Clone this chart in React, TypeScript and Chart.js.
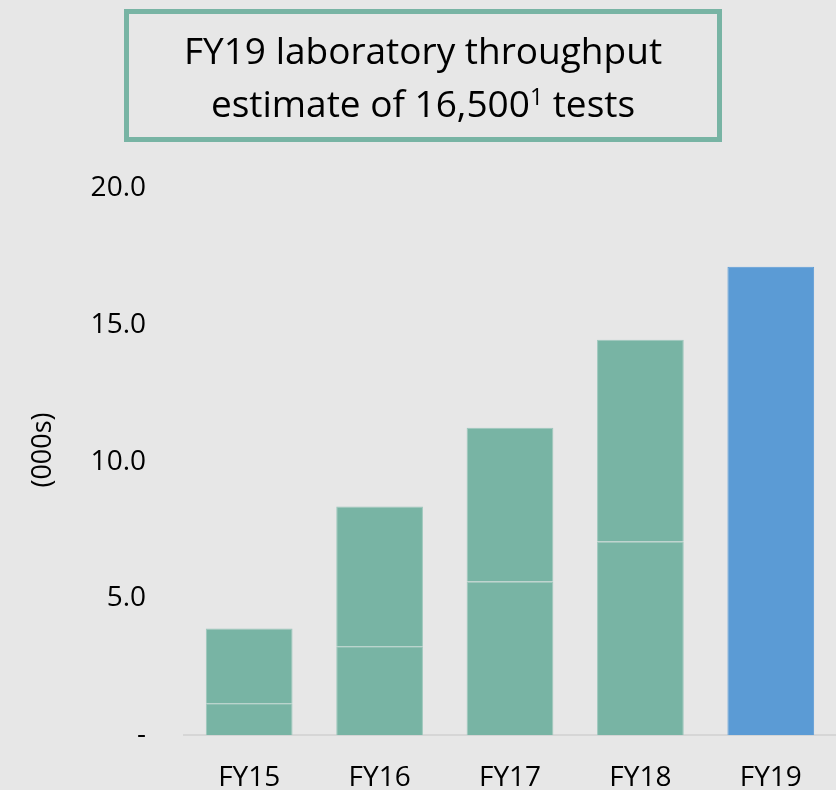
import React, { useEffect, useRef } from "react";
import { Chart, registerables } from "chart.js";

Chart.register(...registerables);

const categories = ["FY15", "FY16", "FY17", "FY18", "FY19"];
const baseValues = [1.17, 3.25, 5.62, 7.08, 17.12];
const topValues = [2.73, 5.11, 5.62, 7.37, 0];
const yTicks = [0, 5, 10, 15, 20];
const yTitle = "(000s)";
const titleLine1 = "FY19 laboratory throughput";
const titleLine2 = "estimate of 16,500";
const titleSup = "1";
const titleLine2End = " tests";

const TEAL = "#78b4a4";
const BLUE = "#5b9bd5";
const BG = "#e7e7e7";
const EDGE = "rgba(150,196,184,0.9)";
const FONT = "'Open Sans', sans-serif";

const yTitlePlugin = {
  id: "yTitlePlugin",
  afterDraw(chart: any) {
    const { ctx } = chart;
    ctx.save();
    ctx.translate(43, 450);
    ctx.rotate(-Math.PI / 2);
    ctx.font = `27px ${FONT}`;
    ctx.fillStyle = "#000";
    ctx.textAlign = "center";
    ctx.textBaseline = "middle";
    ctx.fillText(yTitle, 0, 0);
    ctx.restore();
  },
};

export default function App() {
  const ref = useRef<HTMLCanvasElement | null>(null);

  useEffect(() => {
    if (!ref.current) return;
    const chart = new Chart(ref.current, {
      type: "bar",
      data: {
        labels: categories,
        datasets: [
          {
            data: baseValues,
            backgroundColor: categories.map((c, i) => (i === 4 ? BLUE : TEAL)),
            borderColor: categories.map((c, i) => (i === 4 ? BLUE : EDGE)),
            borderWidth: 1,
            barPercentage: 0.665,
            categoryPercentage: 1,
          },
          {
            data: topValues,
            backgroundColor: TEAL,
            borderColor: EDGE,
            borderWidth: 1,
            barPercentage: 0.665,
            categoryPercentage: 1,
          },
        ],
      },
      options: {
        animation: false,
        responsive: false,
        maintainAspectRatio: false,
        layout: { padding: { top: 188, right: 0, left: 0, bottom: 0 } },
        plugins: {
          legend: { display: false },
          title: { display: false },
          tooltip: { enabled: false },
        },
        scales: {
          x: {
            stacked: true,
            grid: { display: false, drawTicks: false },
            border: { display: true, color: "#d6d6d6", width: 2 },
            ticks: {
              color: "#000",
              font: { family: FONT, size: 28 },
              padding: 26,
            },
            afterFit: (scale: any) => {
              scale.height = 54;
            },
          },
          y: {
            stacked: true,
            min: 0,
            max: 20,
            grid: { display: false, drawTicks: false },
            border: { display: false },
            afterBuildTicks: (scale: any) => {
              scale.ticks = yTicks.map((v) => ({ value: v }));
            },
            afterFit: (scale: any) => {
              scale.width = 184;
            },
            ticks: {
              color: "#000",
              font: { family: FONT, size: 28 },
              padding: 38,
              callback: (v: any) => (Number(v) === 0 ? "-" : Number(v).toFixed(1)),
            },
          },
        },
      },
      plugins: [yTitlePlugin],
    });
    return () => chart.destroy();
  }, []);

  return (
    <div
      style={{
        position: "absolute",
        left: 0,
        top: 0,
        width: 836,
        height: 790,
        background: BG,
        overflow: "hidden",
      }}
    >
      <canvas ref={ref} width={836} height={790} style={{ display: "block" }} />
      <div
        style={{
          position: "absolute",
          left: 124,
          top: 9,
          width: 598,
          height: 133,
          boxSizing: "border-box",
          border: `5px solid ${TEAL}`,
          display: "flex",
          flexDirection: "column",
          alignItems: "center",
          justifyContent: "center",
          fontFamily: FONT,
          fontSize: 37,
          lineHeight: "53px",
          color: "#000",
        }}
      >
        <div>{titleLine1}</div>
        <div>
          {titleLine2}
          <span style={{ fontSize: 23, verticalAlign: "top", lineHeight: "40px" }}>{titleSup}</span>
          {titleLine2End}
        </div>
      </div>
    </div>
  );
}
